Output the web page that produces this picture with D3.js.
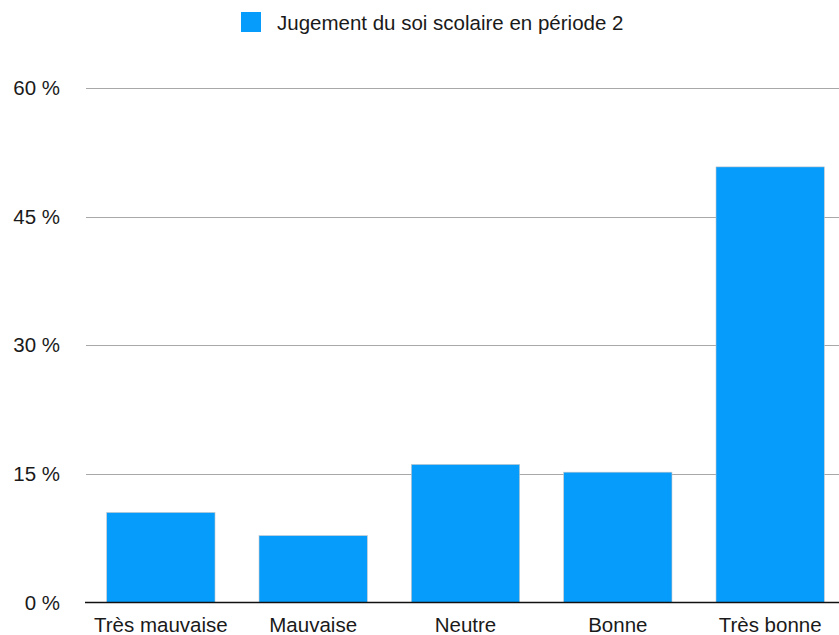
<!DOCTYPE html>
<html>
<head>
<meta charset="utf-8">
<script src="https://cdn.jsdelivr.net/npm/d3@7"></script>
<style>
  body { margin: 0; background: #fff; }
  svg { display: block; font-family: "Liberation Sans", Arial, Helvetica, sans-serif; }
</style>
</head>
<body>
<svg id="chart" width="839" height="635"></svg>
<script>
const categories = ["Très mauvaise", "Mauvaise", "Neutre", "Bonne", "Très bonne"];
const values = [10.5, 7.8, 16.1, 15.2, 50.8];
const yTicks = [0, 15, 30, 45, 60];
const seriesName = "Jugement du soi scolaire en période 2";

const svg = d3.select("#chart");
const color = "#059cfb";
const fs = 20.5;

const x = d3.scaleBand().domain(categories).range([85, 846])
  .paddingInner(0.289).paddingOuter(0.1425);
const y = d3.scaleLinear().domain([0, 60]).range([602.5, 88]);

// gridlines
svg.append("g").selectAll("line").data(yTicks.filter(d => d > 0)).join("line")
  .attr("x1", 86).attr("x2", 839)
  .attr("y1", d => Math.round(y(d)) + 0.5).attr("y2", d => Math.round(y(d)) + 0.5)
  .attr("stroke", "#a8a8a8").attr("stroke-width", 1);

// y tick labels
svg.append("g").selectAll("text").data(yTicks).join("text")
  .attr("x", 60).attr("y", d => y(d)).attr("dy", "0.35em")
  .attr("text-anchor", "end").attr("font-size", fs).attr("fill", "#1a1a1a")
  .text(d => d + " %");

// bars
svg.append("g").selectAll("rect").data(values).join("rect")
  .attr("x", (d, i) => x(categories[i]))
  .attr("width", x.bandwidth())
  .attr("y", d => y(d))
  .attr("height", d => y(0) - y(d))
  .attr("fill", color)
  .attr("stroke", "#c8c8c8").attr("stroke-width", 0.6);

// baseline
svg.append("line").attr("x1", 85).attr("x2", 839)
  .attr("y1", y(0)).attr("y2", y(0))
  .attr("stroke", "#111").attr("stroke-width", 1.6);

// x labels
svg.append("g").selectAll("text").data(categories).join("text")
  .attr("x", d => x(d) + x.bandwidth() / 2).attr("y", 632)
  .attr("text-anchor", "middle").attr("font-size", fs).attr("fill", "#1a1a1a")
  .text(d => d);

// legend
const lg = svg.append("g");
lg.append("rect").attr("x", 241).attr("y", 12).attr("width", 20).attr("height", 20).attr("fill", color);
lg.append("text").attr("x", 277).attr("y", 29.5).attr("font-size", fs).attr("fill", "#1a1a1a").text(seriesName);
</script>
</body>
</html>
